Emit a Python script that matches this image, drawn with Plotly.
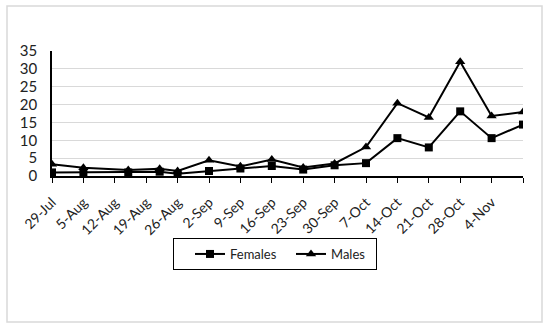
import plotly.graph_objects as go

# Data
dates = ["2020-07-29", "2020-08-05", "2020-08-15", "2020-08-22", "2020-08-26",
         "2020-09-02", "2020-09-09", "2020-09-16", "2020-09-23", "2020-09-30",
         "2020-10-07", "2020-10-14", "2020-10-21", "2020-10-28", "2020-11-04",
         "2020-11-11"]
females = [1.0, 1.0, 1.0, 1.2, 0.6, 1.4, 2.1, 2.8, 1.8, 3.0, 3.6, 10.6, 8.0, 18.1, 10.6, 14.4]
males = [3.3, 2.3, 1.7, 2.0, 1.4, 4.4, 2.7, 4.6, 2.4, 3.5, 8.1, 20.4, 16.4, 32.0, 16.8, 17.9]

tick_dates = ["2020-07-29", "2020-08-05", "2020-08-12", "2020-08-19", "2020-08-26",
              "2020-09-02", "2020-09-09", "2020-09-16", "2020-09-23", "2020-09-30",
              "2020-10-07", "2020-10-14", "2020-10-21", "2020-10-28", "2020-11-04",
              "2020-11-11"]
tick_labels = ["29-Jul", "5-Aug", "12-Aug", "19-Aug", "26-Aug", "2-Sep", "9-Sep",
               "16-Sep", "23-Sep", "30-Sep", "7-Oct", "14-Oct", "21-Oct", "28-Oct",
               "4-Nov", ""]

FONT = "Lato, Calibri, Carlito, sans-serif"

fig = go.Figure()
fig.add_trace(go.Scatter(
    x=dates, y=females, name="Females", mode="lines+markers",
    line=dict(color="black", width=2),
    marker=dict(symbol="square", size=8, color="black"),
))
fig.add_trace(go.Scatter(
    x=dates, y=males, name="Males", mode="lines+markers",
    line=dict(color="black", width=2),
    marker=dict(symbol="triangle-up", size=9, color="black"),
))

W, H = 550, 330
L, R, T, B = 52, 27, 51, 154
pw, ph = W - L - R, H - T - B

def px_to_paper_x(px):
    return (px - L) / pw

def px_to_paper_y(py):
    return (H - B - py) / ph

fig.update_layout(
    width=W, height=H,
    margin=dict(l=L, r=R, t=T, b=B, autoexpand=False),
    paper_bgcolor="white", plot_bgcolor="white",
    font=dict(family=FONT, size=13, color="#222222"),
    showlegend=True,
    legend=dict(
        orientation="h",
        x=px_to_paper_x(173), xanchor="left",
        y=px_to_paper_y(238), yanchor="top",
        bordercolor="black", borderwidth=1,
        font=dict(family=FONT, size=13, color="#222222"),
        itemwidth=30,
        indentation=16,
        entrywidth=40, entrywidthmode="pixels",
    ),
    xaxis=dict(
        type="date", automargin=False,
        range=[tick_dates[0], tick_dates[-1]],
        tickvals=tick_dates, ticktext=tick_labels,
        tickangle=-45,
        showline=True, linecolor="black", linewidth=1.5,
        ticks="outside", ticklen=5, tickcolor="black", tickwidth=1,
        showgrid=False, zeroline=False,
        ticklabelstandoff=6,
        tickfont=dict(family=FONT, size=14, color="#222222"),
    ),
    yaxis=dict(
        automargin=False,
        range=[0, 35], dtick=5,
        showline=True, linecolor="black", linewidth=1.5,
        showgrid=True, gridcolor="#d9d9d9", gridwidth=1,
        zeroline=False, ticks="",
        ticklabelstandoff=10,
        tickfont=dict(family=FONT, size=15, color="#222222"),
    ),
    shapes=[dict(
        type="rect", xref="paper", yref="paper",
        x0=px_to_paper_x(7), x1=px_to_paper_x(542),
        y0=px_to_paper_y(322), y1=px_to_paper_y(6),
        line=dict(color="#d9d9d9", width=1.5), fillcolor="rgba(0,0,0,0)",
        layer="below",
    )],
)

fig.write_html("out.html", config={"displayModeBar": False},
               post_script="document.body.style.margin='0';document.body.style.padding='0';")
